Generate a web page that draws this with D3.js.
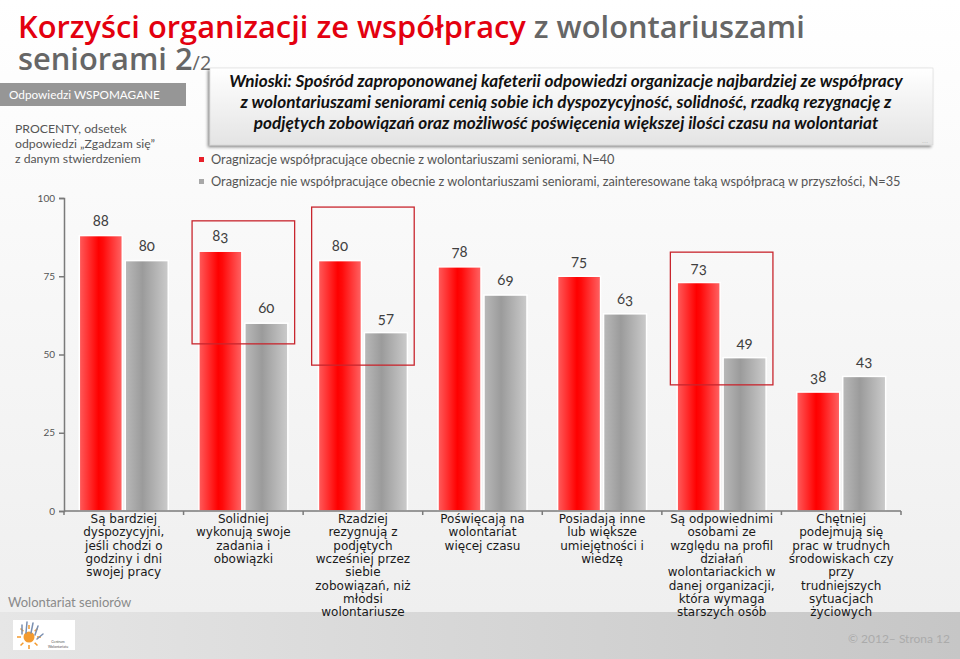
<!DOCTYPE html>
<html><head><meta charset="utf-8">
<script src="https://cdn.jsdelivr.net/npm/d3@7"></script>
<style>
html,body{margin:0;padding:0;background:#fff;}
svg{display:block;}
</style></head>
<body>
<svg id="c" width="960" height="659"></svg>
<script>
// ---------- DATA ----------
const categories = [
  "Są bardziej\ndyspozycyjni,\njeśli chodzi o\ngodziny i dni\nswojej pracy",
  "Solidniej\nwykonują swoje\nzadania i\nobowiązki",
  "Rzadziej\nrezygnują z\npodjętych\nwcześniej przez\nsiebie\nzobowiązań, niż\nmłodsi\nwolontariusze",
  "Poświęcają na\nwolontariat\nwięcej czasu",
  "Posiadają inne\nlub większe\numiejętności i\nwiedzę",
  "Są odpowiednimi\nosobami ze\nwzględu na profil\ndziałań\nwolontariackich w\ndanej organizacji,\nktóra wymaga\nstarszych osób",
  "Chętniej\npodejmują się\nprac w trudnych\nśrodowiskach czy\nprzy\ntrudniejszych\nsytuacjach\nżyciowych"
];
const seriesNames = [
  "Oragnizacje współpracujące obecnie z wolontariuszami seniorami, N=40",
  "Oragnizacje nie współpracujące obecnie z wolontariuszami seniorami, zainteresowane taką współpracą w przyszłości, N=35"
];
const cooperating = [88, 83, 80, 78, 75, 73, 38];
const interested  = [80, 60, 57, 69, 63, 49, 43];
const yTicks = [0, 25, 50, 75, 100];
// highlighted categories: index, value range of the frame
const highlightCats = [1, 2, 5];
const highlightTop = [92.7, 97.1, 82.7];
const highlightBottom = [53.4, 46.6, 40.3];

const titleRed = "Korzyści organizacji ze współpracy";
const titleGray = " z wolontariuszami";
const titleLine2 = "seniorami ";
const conclusion = [
  "Wnioski: Spośród zaproponowanej kafeterii odpowiedzi organizacje najbardziej ze współpracy",
  "z wolontariuszami seniorami cenią sobie ich dyspozycyjność, solidność, rzadką rezygnację z",
  "podjętych zobowiązań oraz możliwość poświęcenia większej ilości czasu na wolontariat"
];
const sideNote = ["PROCENTY, odsetek", "odpowiedzi „Zgadzam się”", "z danym stwierdzeniem"];

// ---------- SETUP ----------
const svg = d3.select("#c");
const defs = svg.append("defs");

function fit(sel, target) {
  const fs = parseFloat(sel.style("font-size"));
  const w = sel.node().getComputedTextLength();
  if (w > 0) sel.style("font-size", (fs * target / w) + "px");
  return sel;
}

// background
const bgG = defs.append("linearGradient").attr("id","bg").attr("x1",0).attr("y1",0).attr("x2",0).attr("y2",1);
bgG.append("stop").attr("offset","0%").attr("stop-color","#ffffff");
bgG.append("stop").attr("offset","100%").attr("stop-color","#efefef");
svg.append("rect").attr("width",960).attr("height",612).attr("fill","url(#bg)");
const ftG = defs.append("linearGradient").attr("id","ft").attr("x1",0).attr("y1",0).attr("x2",1).attr("y2",0);
ftG.append("stop").attr("offset","0%").attr("stop-color","#e6e6e6");
ftG.append("stop").attr("offset","100%").attr("stop-color","#c6c6c6");
svg.append("rect").attr("y",612).attr("width",960).attr("height",47).attr("fill","url(#ft)");

// bar gradients
const rg = defs.append("linearGradient").attr("id","gRed").attr("x1",0).attr("x2",1).attr("y1",0).attr("y2",0);
[["0%","#ff5c5c"],["45%","#ff0000"],["55%","#ff0a0a"],["100%","#ff6464"]].forEach(s=>rg.append("stop").attr("offset",s[0]).attr("stop-color",s[1]));
const gg = defs.append("linearGradient").attr("id","gGray").attr("x1",0).attr("x2",1).attr("y1",0).attr("y2",0);
[["0%","#b9b9b9"],["40%","#9b9b9b"],["100%","#cbcbcb"]].forEach(s=>gg.append("stop").attr("offset",s[0]).attr("stop-color",s[1]));

// ---------- TITLE (one text element, two lines) ----------
const t1 = svg.append("text").attr("x",18).attr("y",38)
  .style("font-family","'Open Sans', sans-serif").style("font-weight",600).style("font-size","30px");
t1.append("tspan").attr("fill","#e3000f").text(titleRed);
t1.append("tspan").attr("fill","#666666").text(titleGray);
fit(t1, 787);
t1.append("tspan").attr("x",18).attr("y",70).attr("fill","#666666").text(titleLine2 + "2");
t1.append("tspan").attr("fill","#666666").style("font-size","20px").style("font-weight",400).text("/2");

// ---------- LEFT PANEL ----------
svg.append("rect").attr("x",0).attr("y",83).attr("width",186).attr("height",23).attr("fill","#969696");
fit(svg.append("text").attr("x",9).attr("y",99).attr("fill","#ffffff")
  .style("font-family","Lato, sans-serif").style("font-size","13px").text("Odpowiedzi WSPOMAGANE"), 151);
const sn = svg.append("g").style("font-family","Lato, sans-serif").style("font-size","13px").attr("fill","#555555");
sideNote.forEach((s,i)=>{
  const t = sn.append("text").attr("x",15).attr("y",133 + i*15).text(s);
  if (i===1) fit(t, 140);
});
const snfs = sn.selectAll("text").filter((d,i)=>i===1).style("font-size");
sn.selectAll("text").style("font-size", snfs);

// ---------- CONCLUSION BOX ----------
const sh = defs.append("filter").attr("id","sh").attr("x","-5%").attr("y","-20%").attr("width","110%").attr("height","150%");
sh.append("feDropShadow").attr("dx",-2).attr("dy",2).attr("stdDeviation",1.5).attr("flood-color","#000").attr("flood-opacity",0.45);
const cg = defs.append("linearGradient").attr("id","gBox").attr("x1",0).attr("x2",0).attr("y1",0).attr("y2",1);
cg.append("stop").attr("offset","0%").attr("stop-color","#ffffff");
cg.append("stop").attr("offset","100%").attr("stop-color","#e4e4e4");
svg.append("rect").attr("x",210).attr("y",68).attr("width",723).attr("height",77)
  .attr("fill","url(#gBox)").attr("stroke","#d0d0d0").attr("stroke-width",0.5).attr("filter","url(#sh)");
const cgT = svg.append("g").style("font-family","Lato, sans-serif").style("font-weight",700)
  .style("font-style","italic").style("font-size","15.5px").attr("fill","#111111").attr("text-anchor","middle");
conclusion.forEach((s,i)=>cgT.append("text").attr("x",566).attr("y",87 + i*21).text(s));
fit(cgT.select("text"), 674);
cgT.selectAll("text").style("font-size", cgT.select("text").style("font-size"));
svg.append("text").attr("x",928).attr("y",143).attr("text-anchor","end").attr("fill","#c8c8c8")
  .style("font-family","Lato, sans-serif").style("font-size","8px").text("…");

// ---------- LEGEND ----------
const lg = svg.append("g").style("font-family","Lato, sans-serif").style("font-size","13px").attr("fill","#555555");
const legColors = ["#e8202a", "#a8a8a8"];
seriesNames.forEach((s,i)=>{
  lg.append("rect").attr("x",199).attr("y",157 + i*22).attr("width",5).attr("height",5).attr("fill",legColors[i]);
  lg.append("text").attr("x",211).attr("y",164 + i*22).text(s);
});
fit(lg.selectAll("text").filter((d,i)=>i===1), 690);
lg.selectAll("text").style("font-size", lg.selectAll("text").filter((d,i)=>i===1).style("font-size"));

// ---------- CHART ----------
const y = d3.scaleLinear().domain([0,100]).range([511,198]);
const x = d3.scaleBand().domain(d3.range(categories.length)).range([64,901]).padding(0);
const xs = d3.scaleBand().domain([0,1]).range([0,x.bandwidth()]).paddingInner(0.065).paddingOuter(0.333);

// y axis
const yAx = svg.append("g").attr("transform","translate(64,0)")
  .call(d3.axisLeft(y).tickValues(yTicks).tickSize(5).tickPadding(4));
yAx.select(".domain").attr("stroke","#7a7a7a").attr("stroke-width",1.5);
yAx.selectAll(".tick line").attr("stroke","#7a7a7a").attr("stroke-width",1.5);
yAx.selectAll(".tick text").attr("fill","#555555").style("font-family","Lato, sans-serif").style("font-size","10px");

// bars
const data = categories.map((c,i)=>({i, vals:[cooperating[i], interested[i]]}));
const grp = svg.append("g").selectAll("g").data(data).join("g")
  .attr("transform",d=>`translate(${x(d.i)},0)`);
grp.selectAll("rect").data(d=>d.vals.map((v,k)=>({v,k}))).join("rect")
  .attr("x",d=>xs(d.k)).attr("width",xs.bandwidth())
  .attr("y",d=>y(d.v)).attr("height",d=>y(0)-y(d.v))
  .attr("fill",d=>d.k===0?"url(#gRed)":"url(#gGray)")
  .attr("stroke","#ffffff").attr("stroke-width",1.5);
grp.selectAll("text").data(d=>d.vals.map((v,k)=>({v,k}))).join("text")
  .attr("x",d=>xs(d.k)+xs.bandwidth()/2).attr("y",d=>y(d.v)-10)
  .attr("text-anchor","middle").attr("fill","#404040")
  .style("font-family","Lato, sans-serif").style("font-size","15px")
  .style("font-variant-numeric","oldstyle-nums")
  .text(d=>d.v);

// x axis
const xAx = svg.append("g").attr("transform","translate(0,511)");
xAx.append("line").attr("x1",64).attr("x2",901).attr("stroke","#7a7a7a").attr("stroke-width",1.5);
const bounds = d3.range(categories.length+1).map(i=> i<categories.length ? x(i) : x(i-1)+x.bandwidth());
xAx.selectAll("line.tk").data(bounds).join("line").attr("class","tk")
  .attr("x1",d=>d).attr("x2",d=>d).attr("y1",0).attr("y2",4).attr("stroke","#7a7a7a").attr("stroke-width",1.5);
const cl = svg.append("g").style("font-family","'DejaVu Sans', Verdana, sans-serif").style("font-size","12px").attr("fill","#1a1a1a").attr("text-anchor","middle");
categories.forEach((c,i)=>{
  const t = cl.append("text").attr("x",x(i)+x.bandwidth()/2).attr("y",523);
  c.split("\n").forEach((ln,j)=>t.append("tspan").attr("x",x(i)+x.bandwidth()/2).attr("dy",j===0?0:13.3).text(ln));
});

// highlight frames
highlightCats.forEach((ci,k)=>{
  svg.append("rect").attr("x",x(ci)+8.5).attr("width",x.bandwidth()-17)
    .attr("y",y(highlightTop[k])).attr("height",y(highlightBottom[k])-y(highlightTop[k]))
    .attr("fill","none").attr("stroke","#c8262e").attr("stroke-width",1.3);
});

// ---------- FOOTER ----------
svg.append("text").attr("x",8).attr("y",607).attr("fill","#8a8a8a")
  .style("font-family","Lato, sans-serif").style("font-size","13px").text("Wolontariat seniorów");
svg.append("text").attr("x",950).attr("y",643).attr("text-anchor","end").attr("fill","#ababab")
  .style("font-family","Lato, sans-serif").style("font-size","12px").text("© 2012– Strona 12");

// logo
const logo = svg.append("g");
logo.append("rect").attr("x",13).attr("y",620).attr("width",62).attr("height",30).attr("fill","#ffffff");
logo.append("circle").attr("cx",29).attr("cy",637).attr("r",5.5).attr("fill","#f39a2e");
d3.range(8).forEach(k=>{
  const a = k*Math.PI/4;
  logo.append("line").attr("x1",29+8*Math.cos(a)).attr("y1",637+8*Math.sin(a))
    .attr("x2",29+12*Math.cos(a)).attr("y2",637+12*Math.sin(a))
    .attr("stroke","#f39a2e").attr("stroke-width",1.5);
});
logo.append("path").attr("d","M22,634 L22,625 M26,633 L27,622 M31,633 L33,623 M35,635 L38,626 M37,639 L43,634")
  .attr("stroke","#7a8fb0").attr("stroke-width",1.5).attr("fill","none").attr("stroke-linecap","round");
logo.append("text").attr("x",58).attr("y",643).attr("text-anchor","middle").attr("fill","#555")
  .style("font-family","Lato, sans-serif").style("font-size","3.5px").text("Centrum");
logo.append("text").attr("x",58).attr("y",648).attr("text-anchor","middle").attr("fill","#555")
  .style("font-family","Lato, sans-serif").style("font-size","3.5px").text("Wolontariatu");
</script>
</body></html>
